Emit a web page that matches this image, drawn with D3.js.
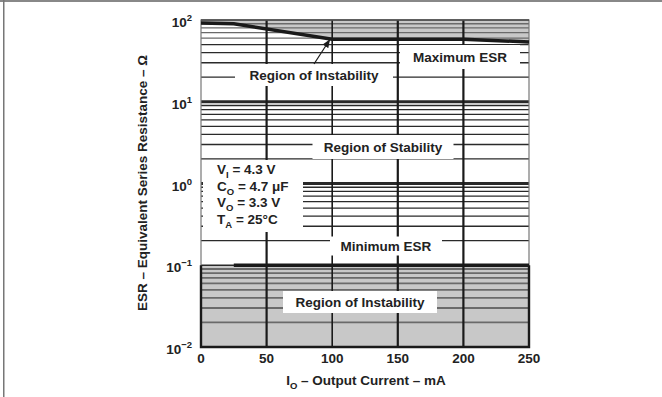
<!DOCTYPE html>
<html>
<head>
<meta charset="utf-8">
<script src="https://cdn.jsdelivr.net/npm/d3@7"></script>
<style>
  body { margin: 0; background: #fff; }
  svg { display: block; font-family: "Liberation Sans", Arial, sans-serif; font-weight: bold; }
</style>
</head>
<body>
<svg width="662" height="397"></svg>
<script>
// data
var xTicks = [0, 50, 100, 150, 200, 250];
var yExponents = [-2, -1, 0, 1, 2];
var maxEsrCurrent = [0, 25, 100, 200, 250];
var maxEsrValue = [92, 90, 58, 58, 54];
var minEsrCurrent = [25, 250];
var minEsrValue = [0.1, 0.1];
var conditions = [
  ["V", "I", " = 4.3 V"],
  ["C", "O", " = 4.7 \u03bcF"],
  ["V", "O", " = 3.3 V"],
  ["T", "A", " = 25\u00b0C"]
];

var svg = d3.select("svg");

// frame of the figure
svg.append("rect").attr("x", 0).attr("y", 0).attr("width", 662).attr("height", 2).attr("fill", "#888");
svg.append("rect").attr("x", 3).attr("y", 0).attr("width", 1.5).attr("height", 397).attr("fill", "#777");

var x = d3.scaleLinear().domain([0, 250]).range([201, 529]);
var y = d3.scaleLog().domain([0.01, 100]).range([347, 20]);

// shaded regions of instability
var upperArea = d3.area()
  .x(function (d, i) { return x(maxEsrCurrent[i]); })
  .y0(y(100))
  .y1(function (d) { return y(d); });
svg.append("path").attr("d", upperArea(maxEsrValue)).attr("fill", "#c8c8c8");
svg.append("rect")
  .attr("x", x(0)).attr("y", y(0.1))
  .attr("width", x(250) - x(0)).attr("height", y(0.01) - y(0.1))
  .attr("fill", "#c8c8c8");

// horizontal grid, every 1..9 of each decade
var minor = [];
yExponents.slice(0, 4).forEach(function (e) {
  for (var k = 1; k < 10; k++) minor.push(k * Math.pow(10, e));
});
svg.append("g").selectAll("line")
  .data(minor)
  .enter().append("line")
    .attr("x1", x(0)).attr("x2", x(250))
    .attr("y1", function (d) { return y(d); })
    .attr("y2", function (d) { return y(d); })
    .attr("stroke", function (d) { return (d < 0.1 || d > 50) ? "#6a6a6a" : "#2a2a2a"; })
    .attr("stroke-width", function (d) {
      if (d === 1 || d === 10) return 3;
      return d < 0.1 ? 1.8 : 1.3;
    });

// vertical grid
svg.append("g").selectAll("line")
  .data(xTicks.slice(1, 5))
  .enter().append("line")
    .attr("x1", function (d) { return x(d); })
    .attr("x2", function (d) { return x(d); })
    .attr("y1", y(100)).attr("y2", y(0.01))
    .attr("stroke", "#1a1a1a")
    .attr("stroke-width", function (d) { return d === 100 ? 1.6 : 2.2; });

// plot border
svg.append("rect")
  .attr("x", x(0)).attr("y", y(100))
  .attr("width", x(250) - x(0)).attr("height", y(0.01) - y(100))
  .attr("fill", "none").attr("stroke", "#777").attr("stroke-width", 1.2);
svg.append("path")
  .attr("d", "M" + x(0) + "," + y(0.1) + "V" + y(0.01) + "H" + x(250) + "V" + y(0.1))
  .attr("fill", "none").attr("stroke", "#1a1a1a").attr("stroke-width", 2.4);
svg.append("line")
  .attr("x1", x(0)).attr("x2", x(250)).attr("y1", y(100)).attr("y2", y(100))
  .attr("stroke", "#444").attr("stroke-width", 1.5);

// max and min ESR lines
var line = d3.line()
  .x(function (d) { return x(d[0]); })
  .y(function (d) { return y(d[1]); });
svg.append("path")
  .attr("d", line(d3.zip(maxEsrCurrent, maxEsrValue)))
  .attr("fill", "none").attr("stroke", "#1a1a1a").attr("stroke-width", 3.5);
svg.append("path")
  .attr("d", line(d3.zip(minEsrCurrent, minEsrValue)))
  .attr("fill", "none").attr("stroke", "#1a1a1a").attr("stroke-width", 3.5);

// labels with white boxes behind them
function label(text, cx, cy, w, h) {
  svg.append("rect").attr("x", cx - w / 2).attr("y", cy - h / 2)
    .attr("width", w).attr("height", h).attr("fill", "#fff");
  svg.append("text").attr("x", cx).attr("y", cy + 5)
    .attr("text-anchor", "middle").attr("font-size", 13.5).attr("fill", "#222")
    .text(text);
}
label("Maximum ESR", 460, 57, 120, 24);
label("Region of Instability", 314, 75, 158, 22);
label("Region of Stability", 383, 147, 141, 24);
label("Minimum ESR", 386, 246, 112, 19);
label("Region of Instability", 360, 302, 154, 22);

// arrow to the max ESR curve
svg.append("defs").append("marker")
  .attr("id", "ah").attr("viewBox", "0 0 10 10").attr("refX", 9).attr("refY", 5)
  .attr("markerWidth", 7).attr("markerHeight", 7).attr("orient", "auto")
  .append("path").attr("d", "M0,1L10,5L0,9Z").attr("fill", "#1a1a1a");
svg.append("line")
  .attr("x1", 314).attr("y1", 64).attr("x2", x(98)).attr("y2", y(57))
  .attr("stroke", "#1a1a1a").attr("stroke-width", 1.2)
  .attr("marker-end", "url(#ah)");

// test conditions
svg.append("rect").attr("x", 203).attr("y", 160).attr("width", 100).attr("height", 72).attr("fill", "#fff");
var cond = svg.append("g");
conditions.forEach(function (c, i) {
  var t = cond.append("text").attr("x", 217).attr("y", 174 + i * 16.5)
    .attr("font-size", 13.5).attr("fill", "#222");
  t.append("tspan").text(c[0]);
  t.append("tspan").attr("font-size", 9.5).attr("dy", 4).text(c[1]);
  t.append("tspan").attr("dy", -4).text(c[2]);
});

// x tick labels
svg.append("g").selectAll("text")
  .data(xTicks)
  .enter().append("text")
    .attr("x", function (d) { return x(d); })
    .attr("y", 363)
    .attr("text-anchor", "middle").attr("font-size", 13.5).attr("fill", "#222")
    .text(function (d) { return d; });

// y tick labels, powers of ten
yExponents.forEach(function (e) {
  var t = svg.append("text").attr("x", 192).attr("y", y(Math.pow(10, e)) + 7)
    .attr("text-anchor", "end").attr("font-size", 13.5).attr("fill", "#222");
  t.append("tspan").text("10");
  t.append("tspan").attr("dy", -6).attr("font-size", 9.5)
    .text(e < 0 ? "\u2212" + (-e) : e);
});

// axis titles
var xt = svg.append("text").attr("x", 366).attr("y", 385)
  .attr("text-anchor", "middle").attr("font-size", 13.5).attr("fill", "#222");
xt.append("tspan").text("I");
xt.append("tspan").attr("dy", 4).attr("font-size", 9.5).text("O");
xt.append("tspan").attr("dy", -4).text(" \u2013 Output Current \u2013 mA");

svg.append("text")
  .attr("transform", "translate(147," + 183 + ") rotate(-90)")
  .attr("text-anchor", "middle").attr("font-size", 13.5).attr("fill", "#222")
  .text("ESR \u2013 Equivalent Series Resistance \u2013 \u03a9");
</script>
</body>
</html>
